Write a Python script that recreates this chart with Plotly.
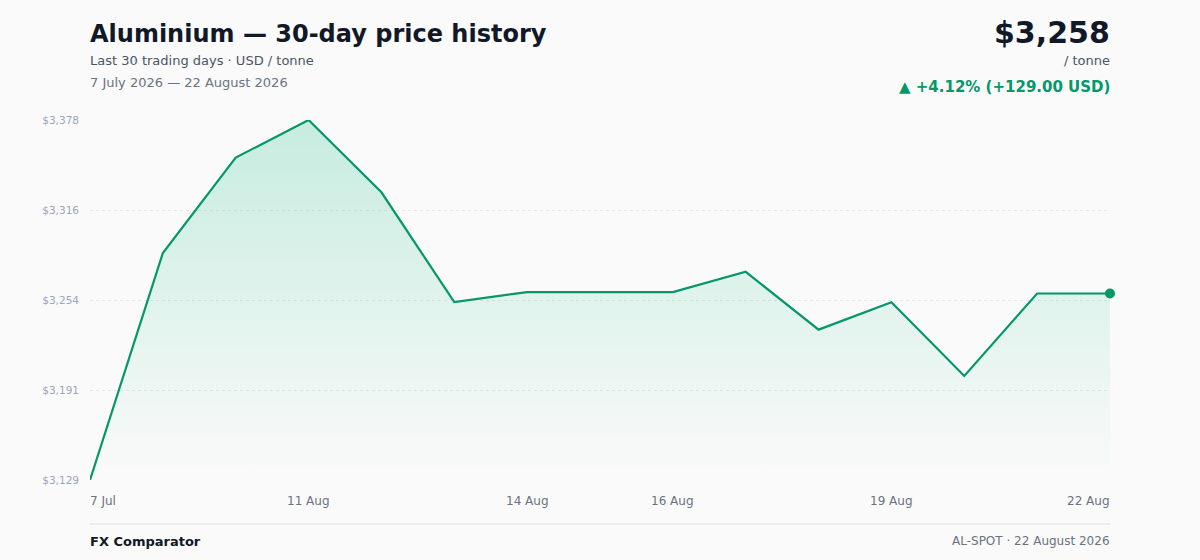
import plotly.graph_objects as go

# Aluminium spot price, USD / tonne (15 sampled points)
prices = [3129, 3286, 3352, 3378, 3328, 3252, 3259, 3259, 3259, 3273, 3233, 3252, 3201, 3258, 3258]
label_idx = [0, 3, 6, 8, 11, 14]
label_text = ["7 Jul", "11 Aug", "14 Aug", "16 Aug", "19 Aug", "22 Aug"]

title = "Aluminium — 30-day price history"
subtitle = "Last 30 trading days · USD / tonne"
date_range = "7 July 2026 — 22 August 2026"
source = "FX Comparator"
footnote = "AL-SPOT · 22 August 2026"

GREEN = "#059669"
FONT = "DejaVu Sans"

x = list(range(len(prices)))
y_min, y_max = min(prices), max(prices)
y_ticks = [y_min + (y_max - y_min) * i / 4 for i in range(5)]

first, last = prices[0], prices[-1]
change = last - first
pct = change / first * 100

# plot area: 120px top margin, 360px tall
def py(pix):
    return (480 - pix) / 360


fig = go.Figure()

# baseline for the gradient fill
fig.add_trace(
    go.Scatter(
        x=x,
        y=[y_min] * len(x),
        mode="lines",
        line=dict(width=0),
        hoverinfo="skip",
        showlegend=False,
    )
)

fig.add_trace(
    go.Scatter(
        x=x,
        y=prices,
        mode="lines",
        line=dict(color=GREEN, width=2.2),
        fill="tonexty",
        fillgradient=dict(
            type="vertical",
            start=y_min,
            stop=y_max,
            colorscale=[[0, "rgba(16,185,129,0.0)"], [1, "rgba(16,185,129,0.22)"]],
        ),
        showlegend=False,
    )
)

# end point marker
fig.add_trace(
    go.Scatter(
        x=[x[-1]],
        y=[last],
        mode="markers",
        marker=dict(color=GREEN, size=10),
        cliponaxis=False,
        showlegend=False,
    )
)

annotations = [
    dict(text="<b>" + title + "</b>", x=0, y=py(34), xanchor="left",
         font=dict(size=24, color="#111827")),
    dict(text=subtitle, x=0, y=py(61), xanchor="left",
         font=dict(size=13, color="#4b5563")),
    dict(text=date_range, x=0, y=py(83), xanchor="left",
         font=dict(size=13, color="#6b7280")),
    dict(text="<b>$" + f"{last:,}" + "</b>", x=1, y=py(32), xanchor="right",
         font=dict(size=30, color="#111827")),
    dict(text="/ tonne", x=1, y=py(61), xanchor="right",
         font=dict(size=13, color="#4b5563")),
    dict(text="<b>▲ " + f"{pct:+.2f}% ({change:+.2f} USD)" + "</b>", x=1, y=py(87),
         xanchor="right", font=dict(size=15, color=GREEN)),
    dict(text="<b>" + source + "</b>", x=0, y=py(541), xanchor="left",
         font=dict(size=13, color="#111827")),
    dict(text=footnote, x=1, y=py(541), xanchor="right",
         font=dict(size=12, color="#6b7280")),
]

# x labels: first left aligned, last right aligned, rest centred
for k, (i, t) in enumerate(zip(label_idx, label_text)):
    anchor = "left" if k == 0 else ("right" if k == len(label_idx) - 1 else "center")
    annotations.append(
        dict(text=t, x=i, xref="x", y=py(501), xanchor=anchor,
             font=dict(size=12, color="#6b7280"))
    )

for a in annotations:
    a.setdefault("xref", "paper")
    a["yref"] = "paper"
    a["yanchor"] = "middle"
    a["showarrow"] = False
    # cancel the annotation box padding at the edges
    if a["xanchor"] == "left":
        a["xshift"] = -2
    elif a["xanchor"] == "right":
        a["xshift"] = 2

fig.update_layout(
    width=1200,
    height=560,
    margin=dict(l=90, r=90, t=120, b=80),
    plot_bgcolor="#fafafa",
    paper_bgcolor="#fafafa",
    font=dict(family=FONT, color="#6b7280"),
    annotations=annotations,
    shapes=[
        dict(type="line", xref="paper", yref="paper", x0=0, x1=1,
             y0=py(524), y1=py(524), line=dict(color="#e5e7eb", width=1.5)),
    ],
    xaxis=dict(range=[0, len(x) - 1], showgrid=False, showticklabels=False,
               zeroline=False, showline=False, fixedrange=True),
    yaxis=dict(
        range=[y_min, y_max],
        tickvals=y_ticks,
        ticktext=["$" + f"{v:,.0f}" for v in y_ticks],
        tickfont=dict(size=10.5, color="#9aa5b8"),
        ticklabelstandoff=10,
        gridcolor="#e5e7eb",
        griddash="dot",
        zeroline=False,
        showline=False,
    ),
)

# drop the default page margin so the figure sits at the window corner
fig.write_html(
    "out.html",
    config={"displayModeBar": False},
    post_script="document.body.style.margin='0';document.body.style.background='#fafafa';",
)
